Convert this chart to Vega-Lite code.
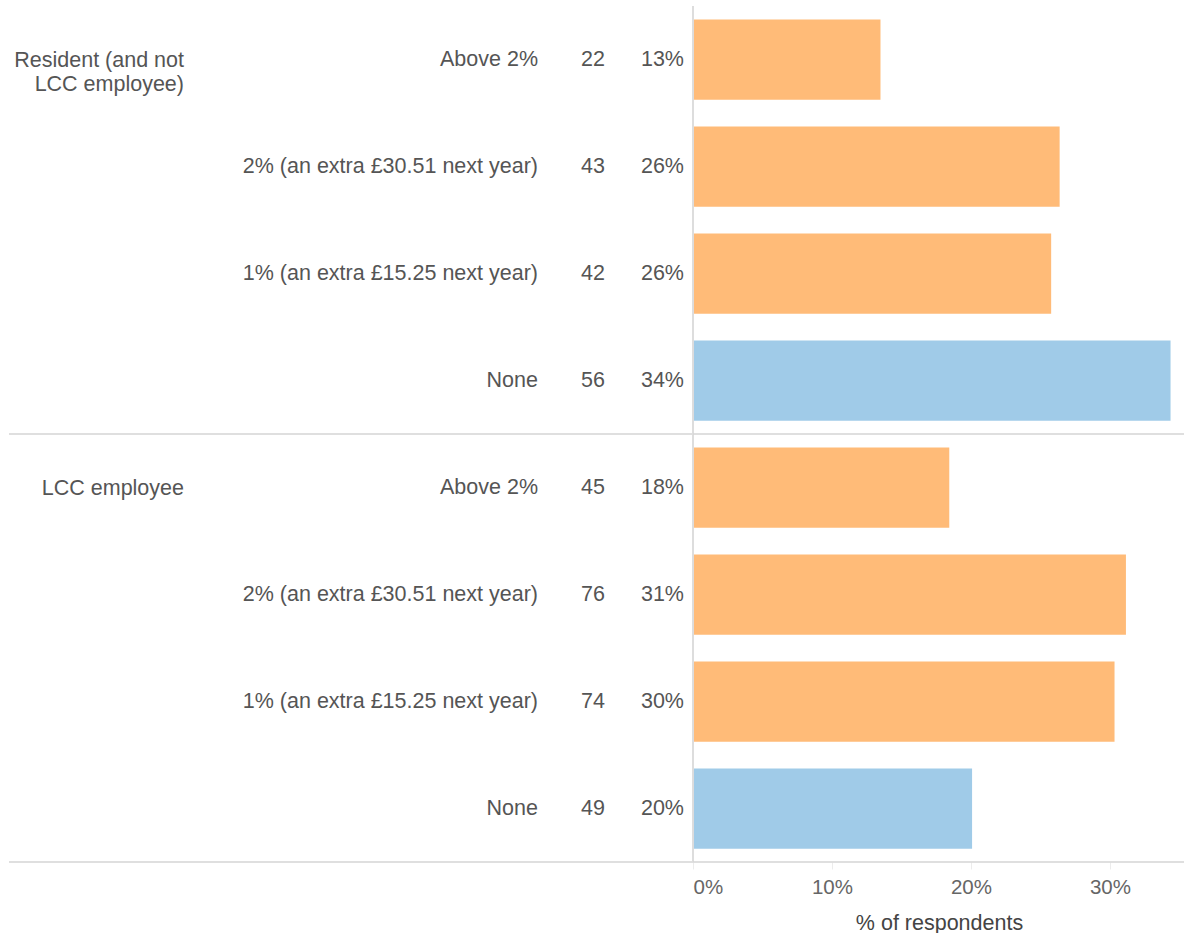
{
  "$schema": "https://vega.github.io/schema/vega-lite/v6.json",
  "padding": {"left": 8, "top": 5, "right": 0, "bottom": 0},
  "bounds": "flush",
  "spacing": 0,
  "config": {
    "view": {"stroke": null},
    "font": "Liberation Sans",
    "text": {"font": "Liberation Sans", "fontSize": 21.5, "color": "#555555"},
    "concat": {"spacing": 0}
  },
  "data": {
    "values": [
      {"group": "Resident (and not LCC employee)", "group_label": "Resident (and not\nLCC employee)", "answer": "Above 2%", "count": 22, "pct": 0.1349},
      {"group": "Resident (and not LCC employee)", "group_label": "Resident (and not\nLCC employee)", "answer": "2% (an extra £30.51 next year)", "count": 43, "pct": 0.2638},
      {"group": "Resident (and not LCC employee)", "group_label": "Resident (and not\nLCC employee)", "answer": "1% (an extra £15.25 next year)", "count": 42, "pct": 0.2577},
      {"group": "Resident (and not LCC employee)", "group_label": "Resident (and not\nLCC employee)", "answer": "None", "count": 56, "pct": 0.3436},
      {"group": "LCC employee", "group_label": "LCC employee", "answer": "Above 2%", "count": 45, "pct": 0.1844},
      {"group": "LCC employee", "group_label": "LCC employee", "answer": "2% (an extra £30.51 next year)", "count": 76, "pct": 0.3115},
      {"group": "LCC employee", "group_label": "LCC employee", "answer": "1% (an extra £15.25 next year)", "count": 74, "pct": 0.3033},
      {"group": "LCC employee", "group_label": "LCC employee", "answer": "None", "count": 49, "pct": 0.2008}
    ]
  },
  "hconcat": [
    {
      "width": 175,
      "height": 856,
      "encoding": {
        "y": {"field": "group", "type": "nominal", "axis": null, "sort": ["Resident (and not LCC employee)", "LCC employee"], "scale": {"paddingInner": 0, "paddingOuter": 0}},
        "yOffset": {"field": "answer", "type": "nominal", "sort": ["Above 2%", "2% (an extra £30.51 next year)", "1% (an extra £15.25 next year)", "None"], "scale": {"paddingInner": 0.25, "paddingOuter": 0.125}}
      },
      "layer": [
        {
          "transform": [{"filter": "datum.answer === 'None'"}],
          "mark": {"type": "rule", "color": "#d4d4d4", "strokeWidth": 1.5},
          "encoding": {
            "y": {"field": "group", "type": "nominal", "bandPosition": 1},
            "yOffset": null
          }
        },
        {
          "transform": [{"filter": "datum.answer === 'Above 2%'"}],
          "mark": {"type": "text", "align": "right", "baseline": "alphabetic", "dy": 7, "lineBreak": "\n", "lineHeight": 24},
          "encoding": {
            "x": {"value": "width"},
            "text": {"field": "group_label"}
          }
        }
      ]
    },
    {
      "width": 354,
      "height": 856,
      "encoding": {
        "y": {"field": "group", "type": "nominal", "axis": null, "sort": ["Resident (and not LCC employee)", "LCC employee"], "scale": {"paddingInner": 0, "paddingOuter": 0}},
        "yOffset": {"field": "answer", "type": "nominal", "sort": ["Above 2%", "2% (an extra £30.51 next year)", "1% (an extra £15.25 next year)", "None"], "scale": {"paddingInner": 0.25, "paddingOuter": 0.125}}
      },
      "layer": [
        {
          "transform": [{"filter": "datum.answer === 'None'"}],
          "mark": {"type": "rule", "color": "#d4d4d4", "strokeWidth": 1.5},
          "encoding": {
            "y": {"field": "group", "type": "nominal", "bandPosition": 1},
            "yOffset": null
          }
        },
        {
          "mark": {"type": "text", "align": "right", "baseline": "middle"},
          "encoding": {
            "x": {"value": "width"},
            "text": {"field": "answer"}
          }
        }
      ]
    },
    {
      "width": 67,
      "height": 856,
      "encoding": {
        "y": {"field": "group", "type": "nominal", "axis": null, "sort": ["Resident (and not LCC employee)", "LCC employee"], "scale": {"paddingInner": 0, "paddingOuter": 0}},
        "yOffset": {"field": "answer", "type": "nominal", "sort": ["Above 2%", "2% (an extra £30.51 next year)", "1% (an extra £15.25 next year)", "None"], "scale": {"paddingInner": 0.25, "paddingOuter": 0.125}}
      },
      "layer": [
        {
          "transform": [{"filter": "datum.answer === 'None'"}],
          "mark": {"type": "rule", "color": "#d4d4d4", "strokeWidth": 1.5},
          "encoding": {
            "y": {"field": "group", "type": "nominal", "bandPosition": 1},
            "yOffset": null
          }
        },
        {
          "mark": {"type": "text", "align": "right", "baseline": "middle"},
          "encoding": {
            "x": {"value": "width"},
            "text": {"field": "count", "type": "quantitative"}
          }
        }
      ]
    },
    {
      "width": 88,
      "height": 856,
      "encoding": {
        "y": {"field": "group", "type": "nominal", "axis": null, "sort": ["Resident (and not LCC employee)", "LCC employee"], "scale": {"paddingInner": 0, "paddingOuter": 0}},
        "yOffset": {"field": "answer", "type": "nominal", "sort": ["Above 2%", "2% (an extra £30.51 next year)", "1% (an extra £15.25 next year)", "None"], "scale": {"paddingInner": 0.25, "paddingOuter": 0.125}}
      },
      "layer": [
        {
          "transform": [{"filter": "datum.answer === 'None'"}],
          "mark": {"type": "rule", "color": "#d4d4d4", "strokeWidth": 1.5},
          "encoding": {
            "y": {"field": "group", "type": "nominal", "bandPosition": 1},
            "yOffset": null
          }
        },
        {
          "mark": {"type": "text", "align": "right", "baseline": "middle", "dx": -9},
          "encoding": {
            "x": {"value": "width"},
            "text": {"field": "pct", "type": "quantitative", "format": ".0%"}
          }
        }
      ]
    },
    {
      "width": 492,
      "height": 856,
      "encoding": {
        "y": {"field": "group", "type": "nominal", "axis": null, "sort": ["Resident (and not LCC employee)", "LCC employee"], "scale": {"paddingInner": 0, "paddingOuter": 0}},
        "yOffset": {"field": "answer", "type": "nominal", "sort": ["Above 2%", "2% (an extra £30.51 next year)", "1% (an extra £15.25 next year)", "None"], "scale": {"paddingInner": 0.25, "paddingOuter": 0.125}}
      },
      "layer": [
        {
          "mark": {"type": "bar"},
          "encoding": {
            "x": {
              "field": "pct", "type": "quantitative",
              "scale": {"domain": [0, 0.354], "nice": false},
              "axis": {
                "values": [0, 0.1, 0.2, 0.3], "format": ".0%", "grid": false, "domain": false,
                "ticks": true, "tickColor": "#ececec", "tickSize": 7,
                "labelFlush": true, "labelFont": "Liberation Sans", "labelFontSize": 20.5, "labelColor": "#666666", "labelPadding": 8,
                "title": "% of respondents", "titleFont": "Liberation Sans", "titleFontSize": 21.5, "titleFontWeight": "normal", "titleColor": "#444444", "titlePadding": 15
              }
            },
            "color": {
              "field": "answer", "type": "nominal", "legend": null,
              "scale": {"domain": ["Above 2%", "2% (an extra £30.51 next year)", "1% (an extra £15.25 next year)", "None"], "range": ["#ffbb78", "#ffbb78", "#ffbb78", "#a0cbe8"]}
            }
          }
        },
        {
          "mark": {"type": "rule", "color": "#dddddd", "strokeWidth": 1.5},
          "encoding": {"x": {"datum": 0, "type": "quantitative"}, "y": null, "yOffset": null}
        },
        {
          "transform": [{"filter": "datum.answer === 'None'"}],
          "mark": {"type": "rule", "color": "#d4d4d4", "strokeWidth": 1.5},
          "encoding": {
            "y": {"field": "group", "type": "nominal", "bandPosition": 1},
            "yOffset": null
          }
        }
      ]
    }
  ]
}
